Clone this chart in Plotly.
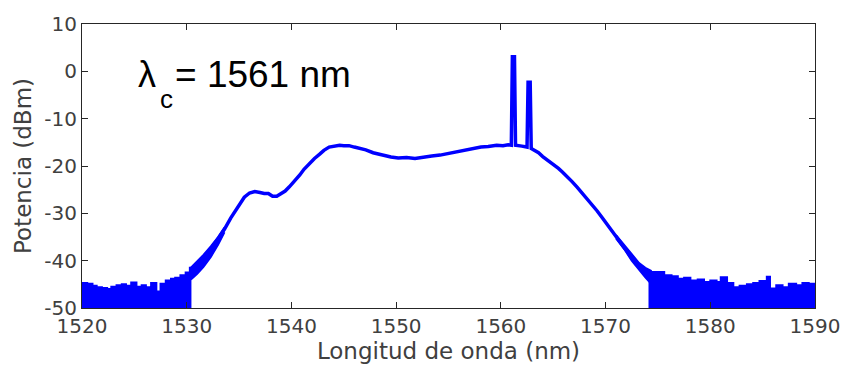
import plotly.graph_objects as go

# Main spectrum (nm, dBm)
wl = [1530.4, 1531.0, 1531.6, 1532.3, 1533.0, 1533.6, 1534.2, 1534.9, 1535.5, 1536.0,
      1536.5, 1537.0, 1537.4, 1537.8, 1538.2, 1538.6, 1538.9, 1539.4, 1539.8, 1540.3,
      1540.8, 1541.2, 1541.7, 1542.2, 1542.7, 1543.1, 1543.6, 1544.1, 1544.6, 1545.0,
      1545.5, 1546.0, 1546.5, 1547.1, 1547.8, 1548.7, 1549.5, 1550.2, 1551.0, 1551.8,
      1552.6, 1553.4, 1554.2, 1554.9, 1555.7, 1556.5, 1557.3, 1558.1, 1558.8, 1559.6,
      1560.2, 1560.7, 1561.0, 1561.1, 1561.3, 1561.4, 1562.0, 1562.5, 1562.6, 1562.8,
      1562.9, 1563.3, 1563.6, 1564.0, 1564.5, 1565.0, 1565.5, 1565.9, 1566.4, 1566.8,
      1567.3, 1567.8, 1568.2, 1568.7, 1569.2, 1569.7, 1570.1, 1570.6, 1571.1, 1571.6,
      1572.0, 1572.5, 1573.0, 1573.4, 1574.1]
power = [-42.0, -40.8, -39.6, -37.6, -35.4, -33.4, -31.0, -28.5, -26.6, -25.7,
         -25.4, -25.6, -25.8, -25.8, -26.4, -26.4, -26.0, -25.3, -24.4, -23.2,
         -21.9, -20.7, -19.5, -18.4, -17.5, -16.7, -16.0, -15.8, -15.6, -15.7,
         -15.7, -16.0, -16.2, -16.6, -17.2, -17.7, -18.1, -18.3, -18.2, -18.4,
         -18.1, -17.9, -17.7, -17.4, -17.1, -16.7, -16.4, -16.0, -15.9, -15.6,
         -15.7, -15.5, -15.6, 3.1, 3.1, -15.6, -15.8, -16.0, -2.3, -2.3,
         -16.3, -16.8, -17.2, -18.0, -18.8, -19.5, -20.5, -21.3, -22.3, -23.3,
         -24.5, -25.8, -26.8, -28.1, -29.5, -31.0, -32.2, -33.8, -35.2, -36.5,
         -37.8, -39.4, -40.6, -41.5, -42.5]

# Noisy (thick) band at the edges of the spectrum
band_l_wl = [1530.4, 1531.0, 1531.6, 1532.3, 1533.0, 1533.6]
band_l_hi = [-41.5, -40.2, -38.8, -37.0, -35.0, -33.0]
band_l_lo = [-44.0, -42.8, -41.3, -39.2, -36.6, -34.0]
band_r_wl = [1571.0, 1571.8, 1572.5, 1573.2, 1573.8, 1574.4]
band_r_hi = [-34.6, -36.8, -38.8, -40.5, -41.5, -42.2]
band_r_lo = [-35.3, -37.6, -40.0, -42.0, -43.5, -45.0]

# Noise floor, upper envelope (left side)
noise_l_wl = [1520.0, 1520.5, 1521.0, 1521.4, 1521.9, 1522.4, 1522.8, 1523.3, 1523.8, 1524.2,
              1524.7, 1525.2, 1525.7, 1526.1, 1526.6, 1527.1, 1527.5, 1528.0, 1528.5, 1528.9,
              1529.4, 1529.9, 1530.3, 1530.45]
noise_l_pw = [-44.7, -44.9, -45.3, -45.6, -45.8, -46.0, -45.5, -45.2, -45.0, -45.3,
              -44.6, -45.5, -45.2, -45.6, -44.7, -46.5, -44.9, -44.2, -43.8, -43.6,
              -43.1, -42.5, -41.5, -41.5]
# Noise floor, upper envelope (right side)
noise_r_wl = [1574.1, 1574.4, 1575.0, 1575.6, 1576.3, 1576.9, 1577.5, 1578.1, 1578.8, 1579.4,
              1580.0, 1580.6, 1581.0, 1581.6, 1582.2, 1582.8, 1583.5, 1584.1, 1584.7,
              1585.4, 1585.7, 1586.3, 1586.9, 1587.5, 1588.2, 1588.8, 1589.4, 1590.0]
noise_r_pw = [-42.4, -42.4, -42.4, -43.1, -43.3, -43.8, -43.6, -44.2, -44.0, -44.5,
              -44.2, -44.5, -43.5, -44.7, -45.6, -45.3, -45.0, -44.7, -44.3,
              -43.4, -45.9, -45.2, -45.6, -44.9, -45.2, -44.7, -44.9, -44.9]
noise_floor = -50

x_ticks = [1520, 1530, 1540, 1550, 1560, 1570, 1580, 1590]
y_ticks = [-50, -40, -30, -20, -10, 0, 10]

blue = "#0000FF"
fig = go.Figure()

for nx, ny in [(noise_l_wl, noise_l_pw), (noise_r_wl, noise_r_pw)]:
    fig.add_trace(go.Scatter(x=[nx[0], nx[-1]], y=[noise_floor, noise_floor], mode="lines",
                             line=dict(color=blue, width=0), hoverinfo="skip", showlegend=False))
    fig.add_trace(go.Scatter(x=nx, y=ny, mode="lines", line=dict(color=blue, width=2, shape="hv"),
                             fill="tonexty", fillcolor=blue, showlegend=False))

for bx, blo, bhi in [(band_l_wl, band_l_lo, band_l_hi), (band_r_wl, band_r_lo, band_r_hi)]:
    fig.add_trace(go.Scatter(x=bx, y=blo, mode="lines", line=dict(color=blue, width=2),
                             showlegend=False))
    fig.add_trace(go.Scatter(x=bx, y=bhi, mode="lines", line=dict(color=blue, width=2),
                             fill="tonexty", fillcolor=blue, showlegend=False))

fig.add_trace(go.Scatter(x=wl, y=power, mode="lines",
                         line=dict(color=blue, width=3.5), showlegend=False))

tick_font = dict(family="DejaVu Sans, sans-serif", size=20, color="#404040")
title_font = dict(family="DejaVu Sans, sans-serif", size=23, color="#404040")
axis_common = dict(
    showline=True, linecolor="#262626", linewidth=1, mirror="ticks",
    ticks="inside", ticklen=6, tickcolor="#262626", tickwidth=1,
    showgrid=False, zeroline=False, tickfont=tick_font, title_font=title_font,
)

fig.update_xaxes(range=[1520, 1590], tickvals=x_ticks, ticktext=[str(v) for v in x_ticks],
                 title_text="Longitud de onda (nm)", title_standoff=5, **axis_common)
fig.update_yaxes(range=[-50, 10], tickvals=y_ticks, ticktext=[str(v) for v in y_ticks],
                 title_text="Potencia (dBm)", title_standoff=6, **axis_common)

ann_font = "Liberation Sans, Arial, sans-serif"
fig.add_annotation(x=1525.25, y=-0.6, xref="x", yref="y", xanchor="left", yanchor="middle",
                   text="λ", showarrow=False, borderpad=0,
                   font=dict(family=ann_font, size=36, color="#000000"))
fig.add_annotation(x=1527.35, y=-5.8, xref="x", yref="y", xanchor="left", yanchor="middle",
                   text="c", showarrow=False, borderpad=0,
                   font=dict(family=ann_font, size=26, color="#000000"))
fig.add_annotation(x=1528.75, y=-0.6, xref="x", yref="y", xanchor="left", yanchor="middle",
                   text="= 1561 nm", showarrow=False, borderpad=0,
                   font=dict(family=ann_font, size=37, color="#000000"))

fig.update_layout(width=852, height=377, margin=dict(l=82, r=26, t=20, b=69),
                  plot_bgcolor="white", paper_bgcolor="white")

fig.write_html("out.html")
